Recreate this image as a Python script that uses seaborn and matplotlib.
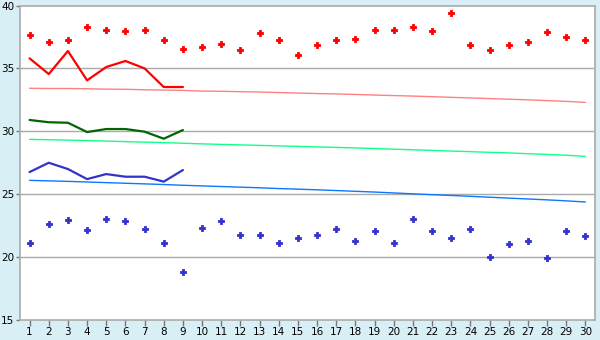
import matplotlib
matplotlib.use("Agg")
import matplotlib.pyplot as plt
import seaborn as sns
import pandas as pd
import numpy as np

days = list(range(1, 31))
max_points = [37.65, 37.07, 37.23, 38.27, 38.05, 37.95, 38.05, 37.23, 36.52, 36.68,
              36.91, 36.44, 37.79, 37.23, 36.04, 36.84, 37.23, 37.31, 38.03, 38.03,
              38.27, 37.95, 39.38, 36.84, 36.44, 36.84, 37.07, 37.87, 37.47, 37.23]
min_points = [21.1, 22.6, 22.95, 22.13, 23.0, 22.84, 22.21, 21.1, 18.79, 22.29,
              22.84, 21.73, 21.73, 21.1, 21.49, 21.73, 22.21, 21.26, 22.05, 21.1,
              23.0, 22.05, 21.49, 22.21, 19.98, 21.02, 21.26, 19.9, 22.05, 21.65]
line_days = list(range(1, 10))
max_line = [35.8, 34.55, 36.38, 34.05, 35.11, 35.59, 35.0, 33.52, 33.52]
mean_line = [30.9, 30.72, 30.68, 29.94, 30.18, 30.18, 29.97, 29.41, 30.1]
min_line = [26.76, 27.5, 27.0, 26.2, 26.6, 26.39, 26.39, 26.0, 26.92]
max_normal = [33.42, 33.4, 33.4, 33.38, 33.35, 33.34, 33.3, 33.28, 33.25, 33.2,
              33.18, 33.15, 33.12, 33.08, 33.04, 33.0, 32.97, 32.93, 32.88, 32.84,
              32.8, 32.75, 32.7, 32.65, 32.6, 32.55, 32.5, 32.44, 32.38, 32.3]
mean_normal = [29.36, 29.33, 29.3, 29.26, 29.22, 29.18, 29.14, 29.1, 29.05, 29.0,
               28.96, 28.92, 28.88, 28.84, 28.8, 28.76, 28.72, 28.68, 28.63, 28.58,
               28.53, 28.48, 28.43, 28.38, 28.33, 28.28, 28.22, 28.16, 28.1, 28.0]
min_normal = [26.1, 26.06, 26.02, 25.97, 25.92, 25.87, 25.82, 25.77, 25.71, 25.66,
              25.61, 25.56, 25.51, 25.45, 25.4, 25.35, 25.29, 25.23, 25.17, 25.1,
              25.03, 24.96, 24.9, 24.83, 24.76, 24.69, 24.62, 24.55, 24.47, 24.38]
y_ticks = [15, 20, 25, 30, 35, 40]

sns.set_theme(style="white")
plt.rcParams['font.family'] = ['DejaVu Sans']

bg = "#d8eff6"
grid = "#aaaaaa"
fig = plt.figure(figsize=(6, 3.4), dpi=100, facecolor=bg)
ax = fig.add_axes([20/600, 1-320/340, 575/600, 314.5/340])
ax.set_facecolor("white")

for y in [20, 25, 30, 35]:
    ax.axhline(y, color=grid, lw=1.0, zorder=0)

normals = pd.DataFrame({"day": days, "max": max_normal, "mean": mean_normal, "min": min_normal})
sns.lineplot(data=normals, x="day", y="max", color="#ff8080", lw=1.0, ax=ax)
sns.lineplot(data=normals, x="day", y="mean", color="#11ff88", lw=1.0, ax=ax)
sns.lineplot(data=normals, x="day", y="min", color="#0a78ff", lw=1.0, ax=ax)

lines = pd.DataFrame({"day": line_days, "max": max_line, "mean": mean_line, "min": min_line})
sns.lineplot(data=lines, x="day", y="max", color="#ff0000", lw=1.6, ax=ax)
sns.lineplot(data=lines, x="day", y="mean", color="#006600", lw=1.6, ax=ax)
sns.lineplot(data=lines, x="day", y="min", color="#3333cc", lw=1.6, ax=ax)

pts = pd.DataFrame({"day": days, "max": max_points, "min": min_points})
sns.scatterplot(data=pts, x="day", y="max", color="#ff0000", edgecolor="#ff0000", marker="P",
                s=18, linewidth=0.6, ax=ax, zorder=5)
sns.scatterplot(data=pts, x="day", y="min", color="#3333cc", edgecolor="#3333cc", marker="P",
                s=18, linewidth=0.6, ax=ax, zorder=5)

ax.set_xlim(0.5, 30.5)
ax.set_ylim(15, 40)
ax.set_xticks(days)
ax.set_xticklabels([str(d) for d in days])
ax.set_yticks(y_ticks)
ax.set_xlabel("")
ax.set_ylabel("")
for s in ax.spines.values():
    s.set_color(grid)
    s.set_linewidth(1.2)
ax.tick_params(axis="both", which="both", direction="out", length=4, width=1, color="#777777",
               labelsize=7.5, labelcolor="black", pad=1, bottom=True, left=True)
ax.tick_params(axis="y", pad=1, length=3)

fig.savefig("out.png", dpi=100, facecolor=bg)
